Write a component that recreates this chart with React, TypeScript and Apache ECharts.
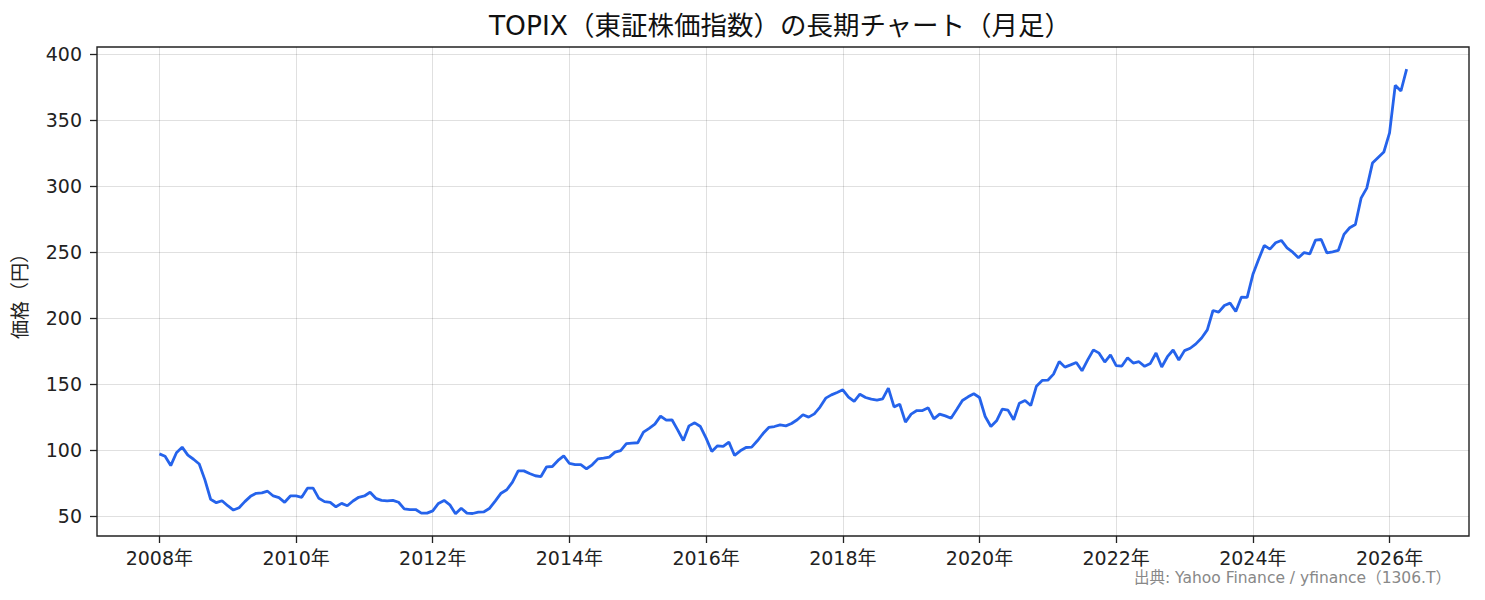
import React, { useEffect, useRef } from 'react'
import * as echarts from 'echarts'

// monthly close, Jan 2008 - Apr 2026
const start = 2008
const v2008 = [97.2, 95.4, 88.3, 98, 102.3, 96.2, 93.1, 89.5, 77.5, 62.8, 60.2, 61.7]
const v2009 = [57.9, 54.6, 56.4, 61, 65, 67.3, 67.6, 68.9, 65.3, 64, 60.5, 65.3]
const v2010 = [65.3, 64.3, 71.2, 71.2, 63.5, 61, 60.5, 57.1, 59.7, 57.9, 61.5, 64.3]
const v2011 = [65.3, 68.1, 63.5, 62, 61.5, 62, 60.5, 55.5, 55, 55, 52.3, 52.3]
const v2012 = [54, 59.6, 61.9, 58.6, 51.8, 56, 52.3, 52, 53, 53.3, 56, 61.6]
const v2013 = [67.4, 70, 75.8, 84.3, 84.3, 82.3, 80.6, 80, 87.4, 87.6, 92.2, 95.7]
const v2014 = [89.9, 89.1, 89.1, 85.9, 88.9, 93.4, 93.9, 94.7, 98.5, 99.7, 105, 105.3]
const v2015 = [105.6, 113.6, 116.5, 119.7, 125.8, 122.7, 123, 115.4, 107.3, 118.4, 120.7, 117.9]
const v2016 = [109.1, 99, 103.3, 102.8, 106.1, 96, 99.5, 102, 102.3, 107.1, 112.6, 117.2]
const v2017 = [117.9, 119.2, 118.4, 120.2, 123, 126.8, 125, 127.5, 132.6, 139.4, 141.9, 143.7]
const v2018 = [145.7, 140.2, 136.9, 142.4, 139.9, 138.6, 137.9, 138.9, 147, 132.8, 134.8, 121.2]
const v2019 = [127.3, 130, 130, 132.1, 123.7, 127.3, 126, 124.2, 130.8, 137.6, 140.4, 142.7]
const v2020 = [139.9, 125.5, 117.9, 122.2, 131.1, 130.3, 123, 135.6, 137.6, 133.8, 148.5, 152.8]
const v2021 = [153, 157.6, 167.2, 162.9, 164.6, 166.4, 160.1, 168.4, 176, 173.5, 166.7, 172.2]
const v2022 = [164.1, 163.7, 170, 166, 167, 163.5, 165.7, 173.6, 163, 170.8, 175.9, 168.3]
const v2023 = [175.4, 177.2, 180.5, 185, 191.1, 205.8, 204.6, 209.6, 211.4, 205.1, 216, 215.7]
const v2024 = [233, 244.4, 255.1, 252.3, 257.1, 258.9, 253.3, 250, 245.7, 249.7, 248.7, 259.1]
const v2025 = [259.6, 249.5, 250.3, 251.3, 263.5, 268.5, 271, 290.9, 298.5, 317.5, 321.8, 325.9]
const v2026 = [340.4, 376.4, 372.1, 388.6]

const yearTicks = [2008, 2010, 2012, 2014, 2016, 2018, 2020, 2022, 2024, 2026]
const priceTicks = [50, 100, 150, 200, 250, 300, 350, 400]

const title = 'TOPIX（東証株価指数）の長期チャート（月足）'
const source = '出典: Yahoo Finance / yfinance（1306.T）'
const font = '"DejaVu Sans", "Noto Sans CJK JP", sans-serif'

function App() {
  const chartRef = useRef<HTMLDivElement>(null)

  useEffect(() => {
    const chart = echarts.init(chartRef.current, null, { renderer: 'svg' })

    const values = [
      ...v2008, ...v2009, ...v2010, ...v2011, ...v2012, ...v2013, ...v2014,
      ...v2015, ...v2016, ...v2017, ...v2018, ...v2019, ...v2020, ...v2021,
      ...v2022, ...v2023, ...v2024, ...v2025, ...v2026,
    ]
    const data = values.map((v, i) => [start + i / 12, v])

    // matplotlib-like 5% margins
    const xLo = start
    const xHi = start + (values.length - 1) / 12
    const xPad = (xHi - xLo) * 0.05
    const yLo = Math.min(...values)
    const yHi = Math.max(...values)
    const yPad = (yHi - yLo) * 0.05

    const gridColor = 'rgba(0,0,0,0.12)'
    const ink = '#222'

    chart.setOption({
      animation: false,
      grid: {
        left: 97,
        right: 16,
        top: 47,
        bottom: 64,
        show: true,
        borderColor: ink,
        borderWidth: 1.4,
        containLabel: false,
        outerBoundsMode: 'none',
      },
      xAxis: {
        type: 'value',
        min: xLo - xPad,
        max: xHi + xPad,
        axisLine: { show: false },
        axisTick: {
          show: true,
          length: 7,
          customValues: yearTicks,
          lineStyle: { color: ink, width: 1.3 },
        },
        axisLabel: {
          customValues: yearTicks,
          formatter: (v: number) => `${v}年`,
          color: ink,
          fontSize: 19,
          fontFamily: font,
          margin: 12,
        },
        splitLine: { show: true, lineStyle: { color: gridColor, width: 1 } },
      },
      yAxis: {
        type: 'value',
        min: yLo - yPad,
        max: yHi + yPad,
        name: '価格（円）',
        nameLocation: 'middle',
        nameRotate: 90,
        nameGap: 68,
        nameTextStyle: { color: ink, fontSize: 19, fontFamily: font },
        axisLine: { show: false },
        axisTick: {
          show: true,
          length: 7,
          customValues: priceTicks,
          lineStyle: { color: ink, width: 1.3 },
        },
        axisLabel: {
          customValues: priceTicks,
          color: ink,
          fontSize: 19,
          fontFamily: font,
          margin: 15,
        },
        splitLine: { show: true, lineStyle: { color: gridColor, width: 1 } },
      },
      series: [
        {
          type: 'line',
          data,
          showSymbol: false,
          lineStyle: { color: '#2563eb', width: 2.8 },
          itemStyle: { color: '#2563eb' },
        },
      ],
      graphic: [
        {
          type: 'text',
          x: 780,
          y: 25,
          style: {
            text: title,
            textAlign: 'center',
            textVerticalAlign: 'middle',
            fontSize: 26.5,
            fontFamily: font,
            fill: '#111',
          },
        },
        {
          type: 'text',
          x: 1451,
          y: 578,
          style: {
            text: source,
            textAlign: 'right',
            textVerticalAlign: 'middle',
            fontSize: 15.5,
            fontFamily: font,
            fill: '#888',
          },
        },
      ],
    })

    return () => {
      chart.dispose()
    }
  }, [])

  return (
    <div
      ref={chartRef}
      style={{ position: 'absolute', left: 0, top: 0, width: '1485px', height: '600px', background: '#fff' }}
    ></div>
  )
}

export default App
